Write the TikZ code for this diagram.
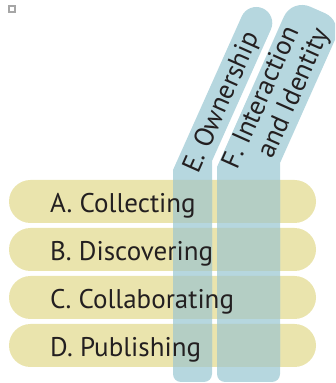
\documentclass[tikz,border=0pt]{standalone}
\usepackage{fontspec}
\setmainfont{PT Sans}
\definecolor{pillyellow}{HTML}{EAE4AD}
\definecolor{barblue}{HTML}{B6D7DF}
\definecolor{mixgreen}{HTML}{B4CEC4}
\definecolor{inkgray}{HTML}{231F20}
\tikzset{
  pillfill/.style={fill=pillyellow, rounded corners=21.5},
  barfill/.style={fill=barblue},
  rowtext/.style={anchor=base west, inner sep=0, text=inkgray, font=\fontsize{27}{28}\selectfont},
  coltext/.style={rotate=66, inner sep=0, text=inkgray, font=\fontsize{27}{28}\selectfont}
}
\begin{document}
\begin{tikzpicture}[x=1pt, y=1pt]
            \useasboundingbox (0,0) rectangle (335,383);
            \clip (0,0) rectangle (335,383);
            %icon
            \draw[gray!70, line width=1.6] (9,371) rectangle (15,377);
            %pills
            \foreach \y in {181.5,133.5,85.5,37.5}
              \fill[pillfill] (9,\y-21.5) rectangle (316,\y+21.5);
            %bars
            \fill[barfill] (181,1) -- (204,1) arc[start angle=-90, end angle=0, radius=8]
              -- (212,222) -- (270.9,353.5) arc[start angle=-24, end angle=156, radius=16]
              -- (173,213) -- (173,9) arc[start angle=180, end angle=270, radius=8] -- cycle;
            \fill[barfill] (225,1) -- (272,1) arc[start angle=-90, end angle=0, radius=8]
              -- (280,220) -- (335.1,343.4) arc[start angle=-24, end angle=66, radius=20]
              -- (310.2,376.3) arc[start angle=66, end angle=156, radius=20]
              -- (217,216) -- (217,9) arc[start angle=180, end angle=270, radius=8] -- cycle;
            %overlap
            \begin{scope}
              \clip (173,0) rectangle (212,210) (217,0) rectangle (280,210);
              \foreach \y in {181.5,133.5,85.5,37.5}
                \fill[pillfill, fill=mixgreen] (9,\y-21.5) rectangle (316,\y+21.5);
            \end{scope}
    
            %nodes
            \node[rowtext] (collect) at (50,170) {A. Collecting};
            \node[rowtext] (discover) at (50,122) {B. Discovering};
            \node[rowtext] (collab) at (50,74) {C. Collaborating};
            \node[rowtext] (publish) at (50,26) {D. Publishing};
            \node[coltext] (own) at (222.5,280) {E. Ownership};
            \node[coltext, align=left] (inter) at (277,284) {F. Interaction\\\hspace*{24pt}and Identity};
        \end{tikzpicture}
\end{document}
